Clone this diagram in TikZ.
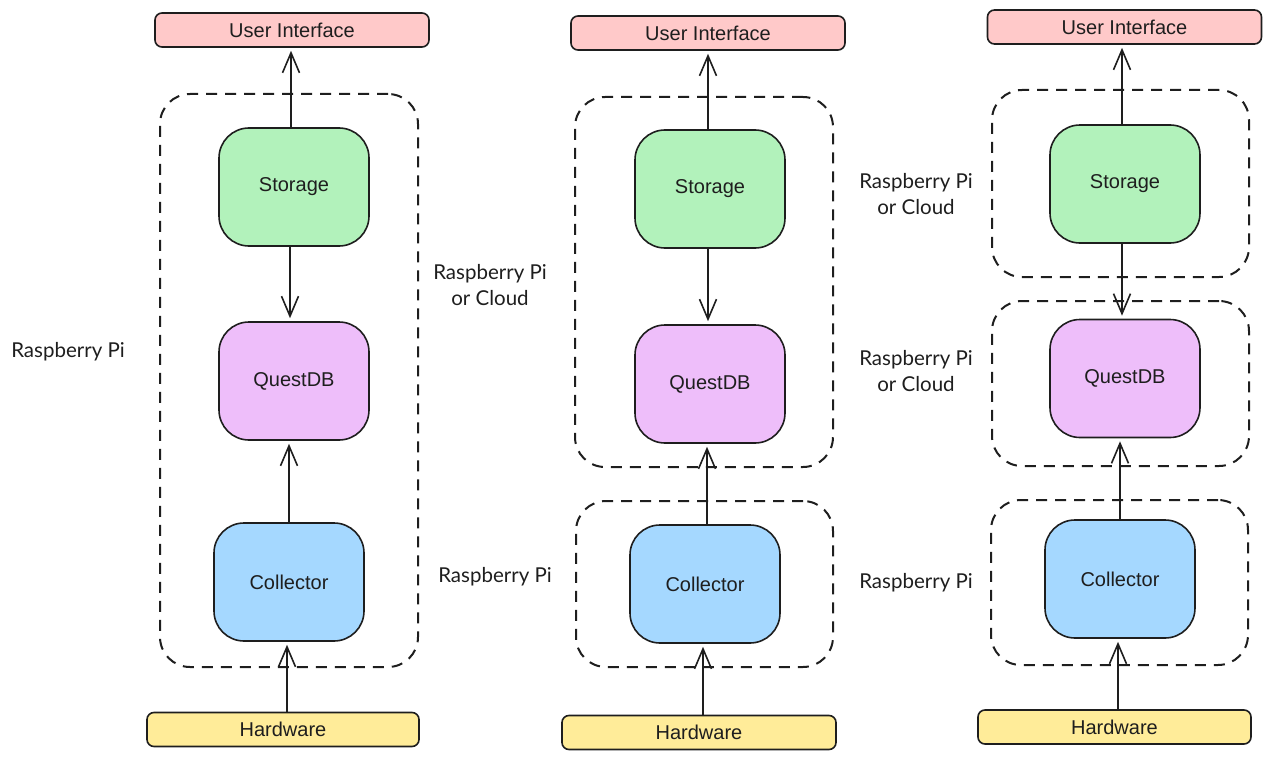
\documentclass[tikz,border=0pt]{standalone}
\usepackage{fontspec}
\setmainfont{Liberation Sans}
\newfontfamily\lblfont{Lato}
\usetikzlibrary{arrows.meta}
\definecolor{ink}{HTML}{1E1E1E}
\definecolor{uifill}{HTML}{FFC9C9}
\definecolor{stfill}{HTML}{B2F2BB}
\definecolor{qdfill}{HTML}{EEBEFA}
\definecolor{cofill}{HTML}{A5D8FF}
\definecolor{hwfill}{HTML}{FFEC99}
\tikzset{
  box/.style={draw=ink, line width=1.6pt, rounded corners=30pt, minimum width=150pt, minimum height=118pt, inner sep=0pt, font=\fontsize{20}{24}\selectfont, text=ink},
  bar/.style={draw=ink, line width=1.6pt, rounded corners=7pt, minimum width=274pt, minimum height=34pt, inner sep=0pt, font=\fontsize{20}{24}\selectfont, text=ink},
  grp/.style={draw=ink, dash pattern=on 11pt off 8pt, line width=2pt, rounded corners=30pt, inner sep=0pt},
  lbl/.style={font=\lblfont\fontsize{20.5}{26}\selectfont, align=center, text=ink},
  arr/.style={draw=ink, line width=1.6pt, -{Straight Barb[length=20pt,width=17pt]}, shorten >=3pt}
}
\begin{document}
\begin{tikzpicture}[x=1pt,y=-1pt]
\useasboundingbox (0,0) rectangle (1270,760);
% ---------- panel 1
\node[grp, minimum width=258pt, minimum height=573pt] (g1) at (289,380.5) {};
\node[bar, fill=uifill] (ui1) at (292,30) {User Interface};
\node[box, fill=stfill] (s1) at (294,187) {Storage};
\node[box, fill=qdfill] (q1) at (294,381) {QuestDB};
\node[box, fill=cofill] (c1) at (289,582) {Collector};
\node[bar, fill=hwfill, minimum width=272pt] (h1) at (283,729.5) {Hardware};
\node[lbl] (l1) at (68,352) {Raspberry Pi};
\draw[arr] ([xshift=-3pt]s1.north) -- ([xshift=-3pt]s1.north |- ui1.south);
\draw[arr] ([xshift=-4pt]s1.south) -- ([xshift=-4pt]s1.south |- q1.north);
\draw[arr] (c1.north) -- (c1.north |- q1.south);
\draw[arr] ([xshift=-2pt]c1.south |- h1.north) -- ([xshift=-2pt]c1.south);
% ---------- panel 2
\node[grp, minimum width=258pt, minimum height=370pt] (g2a) at (704,282) {};
\node[grp, minimum width=257pt, minimum height=166pt] (g2b) at (704.5,584) {};
\node[bar, fill=uifill] (ui2) at (708,33) {User Interface};
\node[box, fill=stfill] (s2) at (710,189) {Storage};
\node[box, fill=qdfill] (q2) at (710,384) {QuestDB};
\node[box, fill=cofill] (c2) at (705,584) {Collector};
\node[bar, fill=hwfill] (h2) at (699,732.5) {Hardware};
\node[lbl] (l2a) at (490,285) {Raspberry Pi\\or Cloud};
\node[lbl] (l2b) at (495,577) {Raspberry Pi};
\draw[arr] ([xshift=-2pt]s2.north) -- ([xshift=-2pt]s2.north |- ui2.south);
\draw[arr] ([xshift=-2pt]s2.south) -- ([xshift=-2pt]s2.south |- q2.north);
\draw[arr] ([xshift=2pt]c2.north) -- ([xshift=2pt]c2.north |- q2.south);
\draw[arr] ([xshift=-2pt]c2.south |- h2.north) -- ([xshift=-2pt]c2.south);
% ---------- panel 3
\node[grp, minimum width=257pt, minimum height=187pt] (g3a) at (1120.5,183.5) {};
\node[grp, minimum width=257pt, minimum height=165pt] (g3b) at (1120.5,383.5) {};
\node[grp, minimum width=257pt, minimum height=165pt] (g3c) at (1119.5,582.5) {};
\node[bar, fill=uifill] (ui3) at (1124.5,27) {User Interface};
\node[box, fill=stfill] (s3) at (1125,184) {Storage};
\node[box, fill=qdfill] (q3) at (1125,378.5) {QuestDB};
\node[box, fill=cofill] (c3) at (1120,579) {Collector};
\node[bar, fill=hwfill, minimum width=273pt] (h3) at (1114.5,727) {Hardware};
\node[lbl] (l3a) at (916,194) {Raspberry Pi\\or Cloud};
\node[lbl] (l3b) at (916,371) {Raspberry Pi\\or Cloud};
\node[lbl] (l3c) at (916,583) {Raspberry Pi};
\draw[arr] ([xshift=-3pt]s3.north) -- ([xshift=-3pt]s3.north |- ui3.south);
\draw[arr] ([xshift=-3pt]s3.south) -- ([xshift=-3pt]s3.south |- q3.north);
\draw[arr] (c3.north) -- (c3.north |- q3.south);
\draw[arr] ([xshift=-2pt]c3.south |- h3.north) -- ([xshift=-2pt]c3.south);
\end{tikzpicture}
\end{document}
